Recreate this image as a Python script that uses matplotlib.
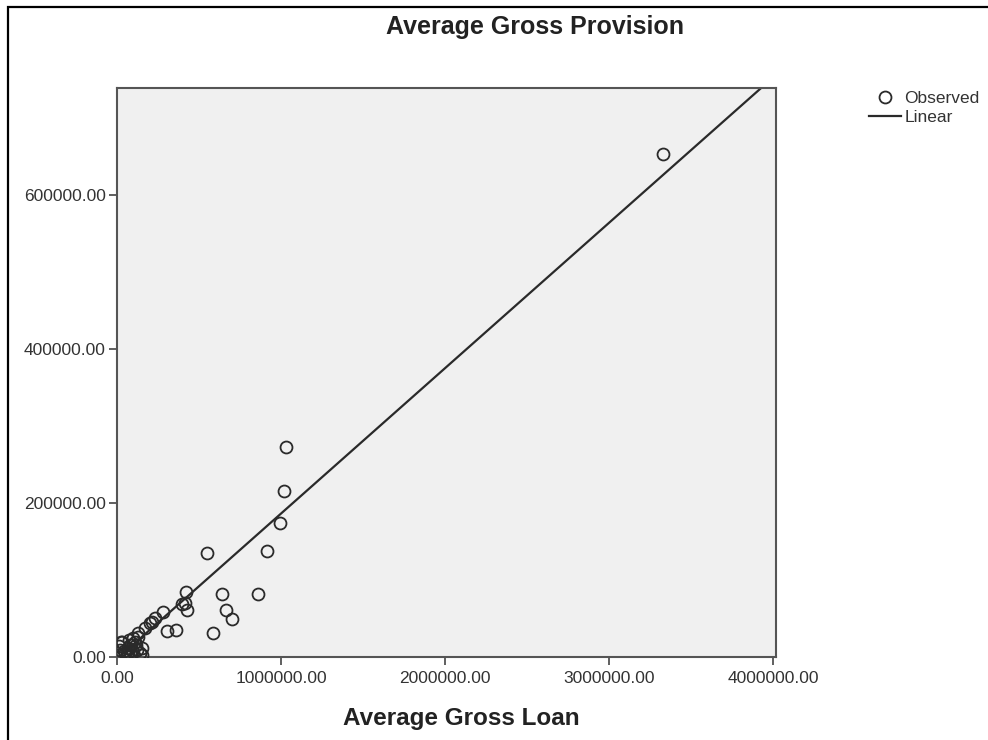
import matplotlib
matplotlib.use("Agg")
import matplotlib.pyplot as plt
from matplotlib.lines import Line2D
from matplotlib.patches import Rectangle
import numpy as np

plt.rcParams['font.family'] = ['Liberation Sans', 'DejaVu Sans']

# Observed data (Average Gross Loan, Average Gross Provision)
loan = [3330000, 1030000, 1018000, 994000, 915000, 549000, 421000, 640000, 860000,
        396000, 427000, 665000, 701000, 280000, 213000, 360000, 305000, 585000,
        24000, 415000, 232000, 201000, 171000, 128000, 98000, 30000, 79000,
        18000, 122000, 140000, 49000, 6000, 91000, 152000, 67000, 110000, 60000,
        40000, 85000, 115000, 150000, 100000, 12000, 75000, 130000]
provision = [653000, 272000, 216000, 174000, 137000, 135000, 84000, 81600, 81600,
             68700, 60900, 60900, 49200, 58300, 45400, 35000, 33700, 31100,
             19400, 70100, 50600, 44100, 37600, 31100, 24700, 19500, 15600,
             9100, 9100, 5200, 5200, 2600, 9100, 11700, 11700, 20000, 4000,
             8000, 3000, 16000, 2000, 6000, 14000, 22000, 26000]

# Linear fit coefficients
slope = 0.1887
intercept = -2500

x_ticks = [0, 1000000, 2000000, 3000000, 4000000]
y_ticks = [0, 200000, 400000, 600000]

fig = plt.figure(figsize=(9.88, 7.40), dpi=100)
W, H = 988, 740

# outer frame
fig.patches.append(Rectangle((8 / W, -0.1), 1.2, (H - 7) / H + 0.1, transform=fig.transFigure,
                             fill=False, edgecolor='black', linewidth=1.6))

ax = fig.add_axes([117 / W, 1 - 657 / H, 659 / W, 569 / H])
ax.set_facecolor('#f0f0f0')

xl = np.array([0, 4200000])
ax.plot(xl, intercept + slope * xl, color='#2a2a2a', linewidth=1.6, label='Linear', zorder=2)
ax.plot(loan, provision, linestyle='none', marker='o', markersize=8.6,
        markerfacecolor='none', markeredgecolor='#2a2a2a', markeredgewidth=1.3,
        label='Observed', zorder=3)

ax.set_xlim(0, 4018000)
ax.set_ylim(0, 738600)
ax.set_xticks(x_ticks)
ax.set_yticks(y_ticks)
ax.set_xticklabels([f"{v:.2f}" for v in x_ticks])
ax.set_yticklabels([f"{v:.2f}" for v in y_ticks])
ax.tick_params(axis='both', direction='out', length=6, width=1.2, color='#444444',
               labelsize=12.5, labelcolor='#333333', pad=2)
ax.tick_params(axis='x', pad=4)
for s in ax.spines.values():
    s.set_color('#555555')
    s.set_linewidth(1.5)

fig.text(535 / W, 1 - 27 / H, 'Average Gross Provision', ha='center', va='center',
         fontsize=18, fontweight='bold', color='#222222')
fig.text(461 / W, 1 - 719 / H, 'Average Gross Loan', ha='center', va='center',
         fontsize=17.5, fontweight='bold', color='#222222')

handles = [Line2D([], [], linestyle='none', marker='o', markersize=8.6, markerfacecolor='none',
                  markeredgecolor='#2a2a2a', markeredgewidth=1.3),
           Line2D([], [], color='#2a2a2a', linewidth=1.6)]
leg = fig.legend(handles, ['Observed', 'Linear'], loc='upper left',
                 bbox_to_anchor=(869 / W, 1 - 91 / H), frameon=False, fontsize=12.5,
                 handlelength=1.85, handletextpad=0.2, labelspacing=0.2, borderpad=0,
                 borderaxespad=0)
for t in leg.get_texts():
    t.set_color('#333333')

fig.savefig('out.png', dpi=100)
